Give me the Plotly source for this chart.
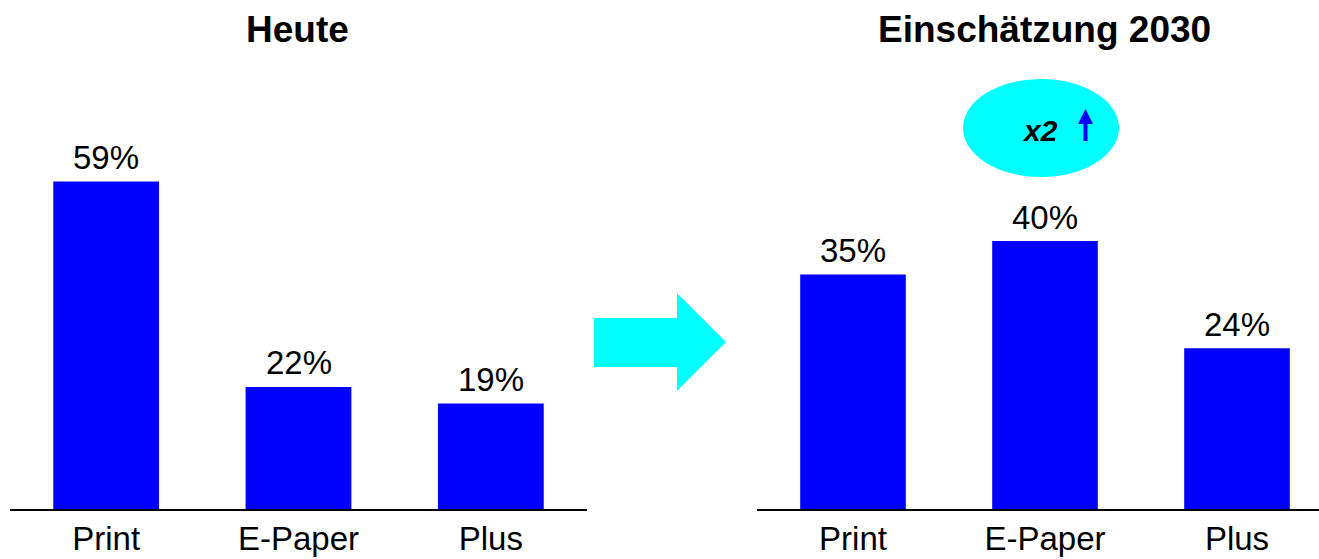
import plotly.graph_objects as go

# Data
categories = ["Print", "E-Paper", "Plus"]
heute = [59, 22, 19]
prognose_2030 = [35, 40, 24]
title_left = "Heute"
title_right = "Einschätzung 2030"
growth_label = "x2"

W, H = 1319, 559
MB = 50                 # bottom margin (below baseline)
PH = H - MB             # plot area height in px

FONT = "Liberation Sans, Arial, sans-serif"
BLUE = "#0000FF"
CYAN = "#00FFFF"


def px(x):
    return x / W


def py(y):
    return (PH - y) / PH


fig = go.Figure()

for vals, xa, ya in [(heute, "x", "y"), (prognose_2030, "x2", "y2")]:
    fig.add_trace(go.Bar(
        x=categories, y=vals, xaxis=xa, yaxis=ya,
        marker=dict(color=BLUE, line=dict(width=0)),
        hoverinfo="skip",
    ))
    # value labels centred just above each bar
    for cat, v in zip(categories, vals):
        fig.add_annotation(
            text=f"{v}%", x=cat, y=v, xref=xa, yref=ya,
            xanchor="center", yanchor="middle", yshift=24,
            showarrow=False, font=dict(size=33, color="black", family=FONT),
        )

xaxis_common = dict(
    type="category", showline=True, linecolor="black", linewidth=1.5,
    showgrid=False, zeroline=False, ticks="", fixedrange=True,
    tickfont=dict(size=33, color="black", family=FONT),
)
yaxis_common = dict(visible=False, showgrid=False, zeroline=False, fixedrange=True)

fig.update_layout(
    width=W, height=H,
    margin=dict(l=0, r=0, t=0, b=MB),
    paper_bgcolor="white", plot_bgcolor="white",
    showlegend=False, bargap=0.45,
    xaxis=dict(domain=[px(10), px(587)], range=[-0.5, 2.5], anchor="y", **xaxis_common),
    yaxis=dict(domain=[0, 1], range=[0, 91.7], anchor="x", **yaxis_common),
    xaxis2=dict(domain=[px(757), 1], range=[-0.5, 2.427], anchor="y2", **xaxis_common),
    yaxis2=dict(domain=[0, 1], range=[0, 76.0], anchor="x2", **yaxis_common),
)

# Panel titles
for label, cx in [(title_left, 297), (title_right, 1044)]:
    fig.add_annotation(
        text=f"<b>{label}</b>", xref="paper", yref="paper",
        x=px(cx), y=py(30), xanchor="center", yanchor="middle",
        showarrow=False, font=dict(size=37, color="black", family=FONT),
    )

# Block arrow between the panels
arrow_pts = [(594, 318), (677, 318), (677, 293), (726, 342),
             (677, 391), (677, 367), (594, 367)]
path = "M " + " L ".join(f"{px(x):.5f},{py(y):.5f}" for x, y in arrow_pts) + " Z"
fig.add_shape(type="path", path=path, xref="paper", yref="paper",
              fillcolor=CYAN, line=dict(width=0), layer="above")

# Growth bubble above E-Paper
fig.add_shape(type="circle", xref="paper", yref="paper",
              x0=px(963), x1=px(1119), y0=py(177), y1=py(79),
              fillcolor=CYAN, line=dict(width=0), layer="above")
fig.add_annotation(
    text=f"<b><i>{growth_label}</i></b>", xref="paper", yref="paper",
    x=px(1040), y=py(131), xanchor="center", yanchor="middle",
    showarrow=False, font=dict(size=30, color="black", family=FONT),
)
up_pts = [(1083.5, 141), (1083.5, 124), (1078, 124), (1085.5, 109),
          (1093, 124), (1087.5, 124), (1087.5, 141)]
up_path = "M " + " L ".join(f"{px(x):.5f},{py(y):.5f}" for x, y in up_pts) + " Z"
fig.add_shape(type="path", path=up_path, xref="paper", yref="paper",
              fillcolor=BLUE, line=dict(width=0), layer="above")

fig.write_html("out.html")
